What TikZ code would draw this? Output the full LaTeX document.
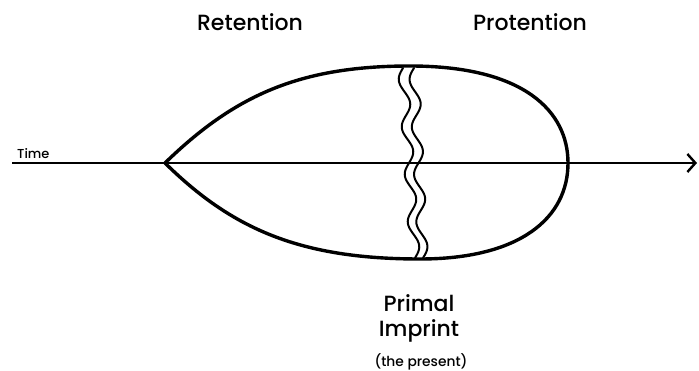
\documentclass[tikz,border=0pt]{standalone}
\usepackage{fontspec}
\setmainfont{Poppins}[UprightFont=* Medium]
\usetikzlibrary{arrows.meta}
\definecolor{tcink}{RGB}{0,0,0}
\tikzset{
	drop/.style={draw=tcink, line width=3.4pt},
	axis/.style={draw=tcink, line width=2.2pt, -{Straight Barb[length=8pt,width=18pt,line width=2.4pt]}},
	wave/.style={draw=tcink, line width=2pt, line cap=round},
	biglabel/.style={font=\fontsize{22}{26}\selectfont, text=tcink, inner sep=0pt},
	smalllabel/.style={font=\fontsize{13}{15}\selectfont, text=tcink, inner sep=0pt}
}
\begin{document}
\begin{tikzpicture}[x=1pt,y=-1pt]
		
		\useasboundingbox (0,0) rectangle (699,371);
		
		\coordinate (tstart) at (12,163);
		\coordinate (tend) at (697,163);
		\draw[axis] (tstart) -- (tend);
		
		\draw[drop] (165,163) .. controls (235,95) and (300,66) .. (410,66)
			.. controls (525,66) and (568,112) .. (568,163)
			.. controls (568,218) and (520,259) .. (420,259)
			.. controls (300,259) and (232,229) .. (165,163);
		
		\draw[wave] plot[domain=0:1, samples=90, smooth]
			({403+12*\x-5*sin(4*360*\x)}, {68+190*\x});
		\draw[wave] plot[domain=0:1, samples=90, smooth]
			({414+9*\x-5*sin(4*360*\x)}, {68+190*\x});
		
		\node[smalllabel, anchor=south west] (time) at (17,159) {Time};
		\node[biglabel] (retention) at (250,22) {Retention};
		\node[biglabel] (protention) at (530,22) {Protention};
		\node[biglabel] (primal) at (419,303) {Primal};
		\node[biglabel] (imprint) at (419,331) {Imprint};
		\node[smalllabel, font=\fontsize{13.8}{16}\selectfont] (present) at (421,362) {(the present)};
		
	\end{tikzpicture}
\end{document}
